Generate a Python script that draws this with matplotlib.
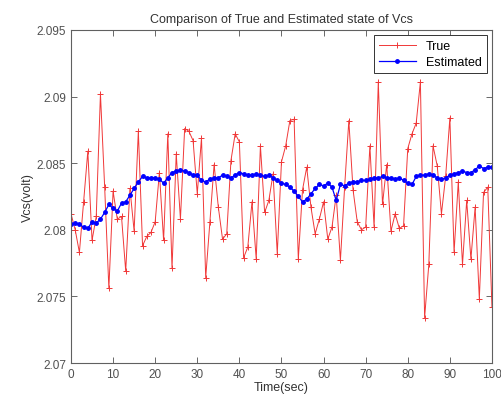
import matplotlib.pyplot as plt
import numpy as np

plt.rcParams['font.family'] = ['Liberation Sans', 'DejaVu Sans']

time_sec = np.arange(0, 101)

vcs_true = [
    2.0812, 2.0800, 2.0783, 2.0821, 2.0859, 2.0792, 2.0810, 2.0902, 2.0832, 2.0756,
    2.0829, 2.0808, 2.0810, 2.0769, 2.0831, 2.0799, 2.0874, 2.0788, 2.0795, 2.0798,
    2.0806, 2.0843, 2.0792, 2.0872, 2.0771, 2.0857, 2.0808, 2.0876, 2.0874, 2.0867,
    2.0827, 2.0869, 2.0764, 2.0806, 2.0849, 2.0817, 2.0793, 2.0797, 2.0852, 2.0872,
    2.0866, 2.0779, 2.0787, 2.0821, 2.0778, 2.0863, 2.0813, 2.0822, 2.0842, 2.0782,
    2.0851, 2.0863, 2.0882, 2.0883, 2.0778, 2.0830, 2.0847, 2.0817, 2.0797, 2.0808,
    2.0821, 2.0793, 2.0802, 2.0826, 2.0777, 2.0832, 2.0882, 2.0830, 2.0806, 2.0800,
    2.0802, 2.0863, 2.0802, 2.0911, 2.0819, 2.0849, 2.0799, 2.0812, 2.0801, 2.0803,
    2.0861, 2.0872, 2.0880, 2.0911, 2.0734, 2.0774, 2.0863, 2.0848, 2.0812, 2.0840,
    2.0884, 2.0783, 2.0836, 2.0774, 2.0822, 2.0778, 2.0817, 2.0748, 2.0828, 2.0832,
    2.0742,
]

vcs_est = [
    2.0804, 2.0805, 2.0804, 2.0802, 2.0801, 2.0806, 2.0805, 2.0808, 2.0813, 2.0819,
    2.0816, 2.0814, 2.0820, 2.0821, 2.0826, 2.0831, 2.0836, 2.0840, 2.0839, 2.0839,
    2.0839, 2.0838, 2.0835, 2.0839, 2.0843, 2.0844, 2.0845, 2.0844, 2.0843, 2.0841,
    2.0841, 2.0837, 2.0836, 2.0838, 2.0839, 2.0839, 2.0841, 2.0840, 2.0839, 2.0841,
    2.0843, 2.0842, 2.0841, 2.0841, 2.0842, 2.0841, 2.0840, 2.0841, 2.0839, 2.0837,
    2.0835, 2.0834, 2.0832, 2.0829, 2.0825, 2.0821, 2.0823, 2.0827, 2.0831, 2.0834,
    2.0833, 2.0835, 2.0832, 2.0822, 2.0834, 2.0833, 2.0835, 2.0836, 2.0836, 2.0837,
    2.0837, 2.0838, 2.0839, 2.0839, 2.0840, 2.0839, 2.0839, 2.0838, 2.0839, 2.0837,
    2.0835, 2.0834, 2.0840, 2.0841, 2.0841, 2.0842, 2.0841, 2.0839, 2.0838, 2.0839,
    2.0841, 2.0842, 2.0843, 2.0844, 2.0843, 2.0843, 2.0845, 2.0848, 2.0846, 2.0847,
    2.0847,
]

x_ticks = [0, 10, 20, 30, 40, 50, 60, 70, 80, 90, 100]
y_ticks = [2.07, 2.075, 2.08, 2.085, 2.09, 2.095]
y_ticklabels = ['2.07', '2.075', '2.08', '2.085', '2.09', '2.095']

fig = plt.figure(figsize=(5.02, 4.02), dpi=100)
ax = fig.add_axes([0.1414, 0.0945, 0.8386, 0.8285])

ax.plot(time_sec, vcs_true, color='#f03838', lw=0.7, marker='+',
        markersize=5, markeredgewidth=0.7, label='True')
ax.plot(time_sec, vcs_est, color='#0000ff', lw=0.9, marker='.',
        markersize=5, label='Estimated')

ax.set_xlim(0, 100)
ax.set_ylim(2.07, 2.095)
ax.set_xticks(x_ticks)
ax.set_yticks(y_ticks)
ax.set_yticklabels(y_ticklabels)

ax.tick_params(direction='in', length=4, width=0.6, top=True, right=True,
               labelsize=8.5, colors='#505050', labelcolor='#505050')
for s in ax.spines.values():
    s.set_color('#606060')
    s.set_linewidth(0.8)

ax.set_title('Comparison of True and Estimated state of Vcs', fontsize=9,
             color='#333333', pad=6)
ax.set_xlabel('Time(sec)', fontsize=9, color='#333333', labelpad=1)
ax.set_ylabel('Vcs(volt)', fontsize=9, color='#333333', labelpad=2)

leg = ax.legend(loc='upper right', fontsize=9, handlelength=3.0,
                fancybox=False, framealpha=1, borderaxespad=0.4,
                borderpad=0.4, labelspacing=0.35)
leg.get_frame().set_edgecolor('#333333')
leg.get_frame().set_linewidth(0.7)

fig.savefig('out.png', dpi=100)
